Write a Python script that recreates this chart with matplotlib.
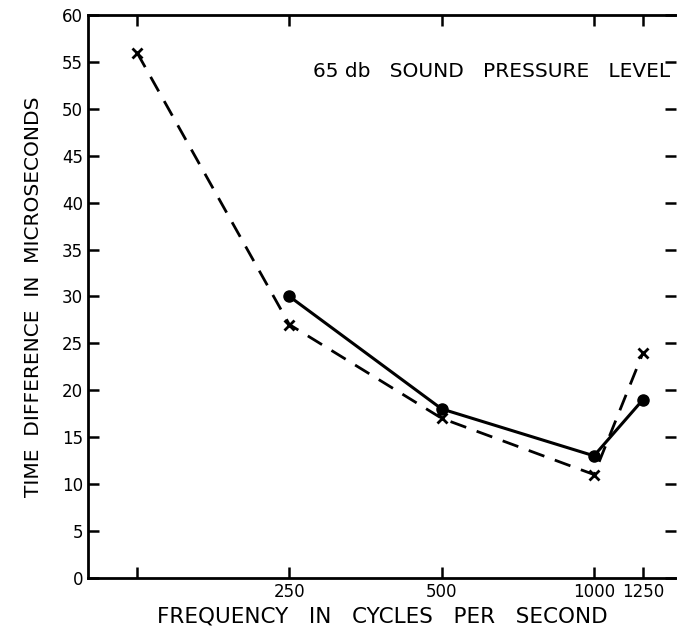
import numpy as np
import matplotlib.pyplot as plt

# Data
freq_cross = [125, 250, 500, 1000, 1250]
time_cross = [56, 27, 17, 11, 24]

freq_dot = [250, 500, 1000, 1250]
time_dot = [30, 18, 13, 19]

xtick_vals = [125, 250, 500, 1000, 1250]
xtick_labels = ["", "250", "500", "1000", "1250"]
ytick_vals = list(range(0, 61, 5))

fig = plt.figure(figsize=(6.77, 6.3), dpi=100)
ax = fig.add_axes([0.130, 0.083, 0.868, 0.893])

ax.plot(freq_cross, time_cross, color="black", linestyle=(0, (6, 4)), linewidth=2,
        marker="x", markersize=7, markeredgewidth=2)
ax.plot(freq_dot, time_dot, color="black", linestyle="-", linewidth=2.2,
        marker="o", markersize=8)

ax.set_xscale("log")
ax.set_xlim(100, 1450)
ax.set_ylim(0, 60)
ax.set_xticks(xtick_vals)
ax.set_xticklabels(xtick_labels)
ax.minorticks_off()
ax.set_yticks(ytick_vals)

ax.tick_params(direction="in", length=8, width=1.8, labelsize=12, top=True, right=True)
for s in ax.spines.values():
    s.set_linewidth(2)
ax.spines["right"].set_visible(False)

ax.set_xlabel("FREQUENCY   IN   CYCLES   PER   SECOND", fontsize=15.5, labelpad=4)
ax.set_ylabel("TIME  DIFFERENCE  IN  MICROSECONDS", fontsize=14.5, labelpad=14)

ax.text(0.99, 0.90, "65 db   SOUND   PRESSURE   LEVEL", transform=ax.transAxes,
        ha="right", va="center", fontsize=14.5)

plt.savefig("out.png", dpi=100)
plt.close()
